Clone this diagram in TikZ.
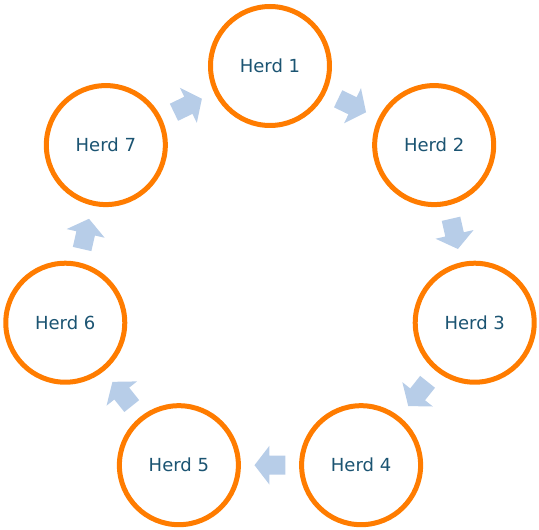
\documentclass[tikz,border=0pt]{standalone}
\usepackage{fontspec}
\setmainfont{DejaVu Sans}
\usetikzlibrary{calc}
\definecolor{herdorange}{RGB}{255,124,0}
\definecolor{arrowblue}{RGB}{183,205,232}
\definecolor{herdtext}{RGB}{27,84,114}
\tikzset{
  herd/.style={circle, draw=herdorange, line width=5pt, fill=white, minimum size=119pt, inner sep=0pt,
    text=herdtext, font=\fontsize{18}{20}\selectfont},
  blockarrow/.style={fill=arrowblue, draw=none}
}
\begin{document}
\begin{tikzpicture}[x=1pt,y=1pt]
\useasboundingbox (-270,-254) rectangle (269,276);
\foreach \i in {1,...,7}{
  \node[herd] (c\i) at ({90-(\i-1)*360/7}:210) {Herd \i};
}
\foreach \i/\j in {1/2,2/3,3/4,4/5,5/6,6/7,7/1}{
  \begin{scope}[shift={($(c\i)!0.5!(c\j)$)}, rotate={-(\i-1)*360/7-180/7}]
    \fill[blockarrow] (-15.5,-9.5) -- (0.5,-9.5) -- (0.5,-19.5) -- (15.5,0) -- (0.5,19.5) -- (0.5,9.5) -- (-15.5,9.5) -- cycle;
  \end{scope}
}
\end{tikzpicture}
\end{document}
